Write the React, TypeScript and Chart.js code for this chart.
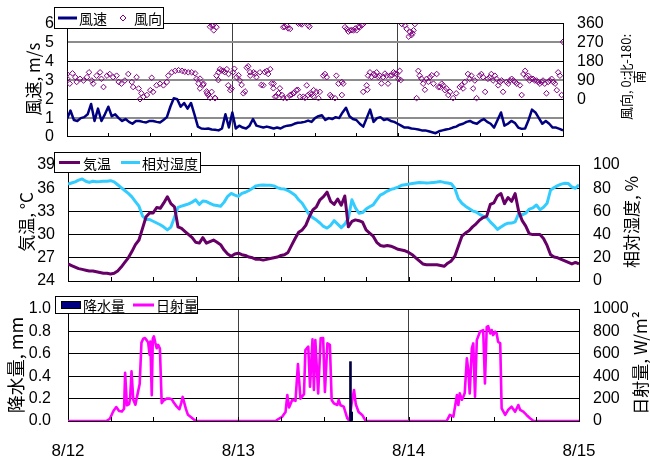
import { useEffect, useRef } from "react";
import { Chart, registerables } from "chart.js";

Chart.register(...registerables);

// ---------- data ----------
const DATE_LABELS = ["8/12", "8/13", "8/14", "8/15"];
const SAMPLE_STEP_HOURS = 0.5; // half-hourly samples from 8/12 00:00

// 風速 m/s (half-hourly)
const windSpeed = [
  0.95, 1.4, 0.9, 0.85, 1.0, 1.05, 1.2, 1.75, 0.85, 1.5,
  0.85, 1.2, 1.6, 1.1, 1.2, 1.0, 0.85, 0.95, 0.8, 0.7,
  0.85, 0.85, 0.8, 0.77, 0.85, 0.85, 0.8, 0.77, 0.9, 1.05,
  1.6, 2.05, 2.0, 1.6, 1.8, 1.5, 1.8, 1.2, 0.55, 0.45,
  0.43, 0.45, 0.4, 0.38, 0.35, 0.45, 1.2, 0.5, 1.3, 0.45,
  0.6, 0.5, 0.45, 0.6, 0.95, 0.6, 0.55, 0.5, 0.55, 0.5,
  0.45, 0.5, 0.45, 0.55, 0.6, 0.62, 0.7, 0.75, 0.77, 0.8,
  0.87, 0.8, 1.0, 1.1, 1.15, 0.9, 1.0, 0.95, 1.05, 1.0,
  1.3, 1.55, 1.1, 0.95, 0.9, 0.7, 0.55, 1.0, 1.45, 0.8,
  1.0, 1.05, 0.9, 0.95, 0.85, 0.8, 0.7, 0.6, 0.5, 0.5,
  0.45, 0.43, 0.4, 0.35, 0.35, 0.3, 0.25, 0.2, 0.3, 0.35,
  0.4, 0.43, 0.5, 0.55, 0.65, 0.7, 0.8, 0.85, 0.75, 0.7,
  0.85, 0.95, 0.8, 0.7, 0.5, 0.9, 1.3, 0.6, 0.7, 0.85,
  0.75, 0.5, 0.43, 0.45, 0.9, 1.45, 1.3, 1.0, 0.7, 0.85,
  0.7, 0.5, 0.5, 0.43, 0.35,
];

// 風向 [hour, degrees]
const windDirection: [number, number][] = [
  [0, 120], [0.05, 97], [0.4, 74], [0.8, 123], [1.2, 105], [1.4, 82], [1.9, 97], [2.4, 89], [2.9, 105], [3.2, 128],
  [3.6, 89], [3.8, 74], [4.3, 112], [4.8, 128], [5.0, 97], [5.3, 58], [5.8, 112], [6.2, 120], [6.7, 105], [7.2, 112],
  [7.5, 82], [7.9, 74], [8.4, 89], [8.9, 120], [9.4, 82], [9.6, 58], [10.1, 105], [10.4, 51], [10.6, 0], [10.8, 28],
  [11.1, 12], [11.6, 20], [12.1, 43], [12.3, 102], [12.5, 35], [13.0, 66], [13.5, 74], [14.0, 66], [14.5, 82], [14.7, 112],
  [15.2, 128], [15.7, 135], [16.2, 138], [16.7, 135], [17.1, 131], [17.6, 128], [18.1, 128], [18.6, 123], [18.8, 97], [19.1, 74],
  [19.3, 51], [19.8, 74], [20.3, 28], [20.5, 20], [21.0, 35], [21.5, 5], [21.7, 112], [22.0, 128], [22.2, 143], [22.7, 135],
  [23.2, 143], [21.2, 351], [21.3, 328], [21.7, 343], [23.4, 66], [23.7, 43], [23.9, 51], [24.1, 128], [24.6, 105], [25.1, 89],
  [25.6, 28], [26.1, 150], [26.3, 157], [26.6, 112], [27.1, 128], [27.5, 105], [28.0, 128], [28.5, 66], [29.0, 135], [29.5, 143],
  [30.0, 74], [30.2, 12], [30.7, 28], [31.2, 20], [31.9, 5], [32.4, 20], [32.9, 28], [33.3, 43], [33.8, 12], [34.3, 12],
  [34.8, 66], [35.0, 20], [35.3, 28], [35.8, 43], [31.4, 343], [31.9, 351], [32.4, 335], [33.6, 360], [34.1, 356], [35.0, 351],
  [19.31, 98], [19.79, 68], [20.27, 37], [20.76, 6], [21.48, 6], [21.97, 91], [22.45, 137], [22.9, 129], [23.45, 120], [24.3, 145],
  [24.9, 114], [25.35, 68], [25.85, 37], [26.57, 129], [27.3, 122], [28.2, 68], [28.7, 129], [29.2, 120], [29.7, 75], [29.96, 52],
  [30.4, 14], [30.9, 52], [31.4, 6], [32.6, 22], [32.85, 29], [33.5, 45], [34.55, 6], [35.5, 22], [35.76, 14], [20.76, 345],
  [21.0, 352], [31.6, 345], [32.1, 337], [33.9, 360], [35.2, 345],
  [36.2, 35], [36.5, 5], [36.7, 35], [37.2, 112], [37.45, 120], [37.7, 105], [38.2, 20], [38.4, 12], [38.9, 5], [39.1, 112],
  [39.4, 74], [39.9, 82], [39.9, 20], [40.1, 74], [40.35, 343], [40.6, 335], [41.1, 328], [41.6, 328], [42.05, 328], [42.5, 343],
  [43.0, 358], [40.85, 322], [41.35, 329], [41.85, 337], [42.3, 345], [42.8, 352],
  [43.0, 35], [43.5, 66], [43.7, 112], [43.98, 128], [44.5, 120], [44.95, 128], [45.4, 112], [45.9, 105], [46.4, 112], [46.6, 74],
  [46.9, 112], [47.4, 128], [47.85, 120], [48.1, 97], [48.3, 135], [48.6, 358], [49.06, 351], [49.3, 335], [49.8, 320], [50.0, 305],
  [50.3, 328], [50.5, 358], [49.6, 298], [50.15, 314], [43.6, 45], [44.2, 106], [44.7, 114], [45.2, 106], [45.65, 75], [46.15, 122],
  [47.15, 114], [47.6, 122], [48.45, 91],
  [50.75, 5], [51.0, 135], [51.2, 112], [51.7, 74], [52.2, 97], [52.7, 105], [53.2, 74], [53.66, 120], [53.9, 58], [54.4, 74],
  [54.6, 66], [55.1, 51], [55.6, 35], [56.05, 5], [56.5, 28], [57.0, 58], [57.5, 51], [57.75, 82], [58.2, 120], [58.7, 112],
  [58.96, 51], [59.45, 5], [59.9, 112], [60.4, 105], [60.7, 35], [61.1, 97], [61.6, 120], [62.1, 112], [62.6, 66], [63.1, 89],
  [63.3, 35], [63.8, 82], [64.3, 89], [64.8, 89], [65.3, 74], [65.75, 66], [66.0, 20], [66.5, 135], [66.95, 112], [67.4, 97],
  [67.9, 89], [68.4, 82], [68.9, 82], [69.35, 74], [69.6, 28], [70.1, 89], [70.6, 82], [71.1, 43], [71.3, 128], [71.55, 112],
  [71.8, 20], [72.0, 273], [51.45, 98], [51.95, 45], [52.45, 83], [52.95, 114], [54.15, 58], [54.85, 43], [55.35, 20], [57.25, 66],
  [58.45, 97], [59.2, 89], [60.15, 120], [61.35, 105], [61.85, 89], [62.35, 97], [62.85, 82], [64.05, 74], [64.55, 97], [65.05, 82],
  [66.25, 120], [66.7, 105], [67.15, 89], [67.65, 97], [68.15, 89], [68.65, 74], [69.1, 89], [69.85, 82], [70.35, 97], [70.85, 74],
];

// 気温 °C (half-hourly)
const airTemp = [
  26.2, 26.0, 25.8, 25.6, 25.5, 25.4, 25.3, 25.3, 25.2, 25.1,
  25.0, 25.0, 24.9, 25.0, 25.3, 25.8, 26.4, 27.0, 27.8, 28.7,
  29.3, 30.8, 32.3, 32.8, 32.8, 33.5, 33.4, 34.1, 34.9, 34.0,
  33.6, 31.0, 30.8, 30.4, 30.0, 29.6, 29.0, 28.9, 29.6, 28.9,
  29.1, 29.3, 29.0, 28.7, 28.0, 27.5, 27.2, 27.5, 27.6, 27.4,
  27.3, 27.1, 27.0, 26.8, 26.8, 26.7, 26.8, 26.9, 27.0, 27.1,
  27.3, 27.4, 27.7, 28.6, 29.5, 30.3, 30.6, 31.2, 32.3, 33.2,
  33.6, 34.5, 34.9, 35.5, 34.3, 33.9, 34.6, 33.8, 35.0, 31.0,
  31.7, 31.9, 31.8, 31.6, 30.6, 30.2, 29.8, 29.0, 28.6, 28.5,
  28.6, 28.5, 28.3, 28.1, 28.0, 27.9, 27.7, 27.4, 27.0, 26.6,
  26.2, 26.1, 26.1, 26.1, 26.1, 26.0, 25.9, 26.3, 26.6, 27.2,
  28.5, 29.8, 30.2, 30.5, 31.0, 31.4, 31.9, 32.2, 32.4, 33.9,
  34.1, 35.0, 35.3, 34.0, 34.8, 34.3, 35.3, 33.0, 31.8, 31.1,
  30.1, 30.0, 30.0, 30.0, 29.5, 28.6, 27.4, 27.1, 27.0, 26.8,
  26.6, 26.4, 26.2, 26.4, 26.2,
];

// 相対湿度 % (half-hourly)
const humidity = [
  83.5, 84.5, 85.5, 87, 88, 86, 85, 86, 85.5, 85.7,
  86, 86, 86.5, 85.5, 83, 80.5, 78, 75.5, 72.5, 68.5,
  64.5, 56, 53, 53, 51.5, 50, 48.5, 46.5, 44, 46.5,
  55, 63.5, 64.5, 65.5, 66.5, 68, 70, 66, 69, 68.5,
  67, 65.5, 65, 64.5, 68, 73, 75.5, 74, 73, 75.5,
  76.5, 78, 80, 82, 82.5, 82.8, 82.5, 82.5, 82, 80.5,
  79.5, 79.3, 78, 76, 74, 70, 67, 62, 57, 54.5,
  52.5, 50, 47, 45.6, 48, 52, 49, 46, 49, 54,
  70, 63, 58.4, 59, 62, 64, 65.6, 70, 74, 75.6,
  77.5, 79, 79.8, 81, 82.5, 83, 83.5, 84, 84.5, 85,
  84.8, 84.5, 84.7, 85, 85.3, 85.7, 85, 84.5, 83.8, 80,
  71, 67, 64.5, 62.5, 60.5, 59.5, 57.5, 56, 54.7, 51,
  48, 44.5, 46.5, 48.5, 49.8, 49.9, 51, 58, 57, 58.5,
  62, 63, 65.5, 61.5, 63.5, 67, 78.5, 80.5, 82.2, 83.5,
  84.2, 84, 81, 80, 83,
];

// 日射量 W/m² [hour, value]
const solar: [number, number][] = [
  [0, 0], [5.4, 0], [5.9, 20], [6.4, 90], [6.8, 125], [7.2, 90], [7.6, 85], [7.9, 110], [8.05, 430], [8.3, 140],
  [8.6, 150], [8.75, 200], [8.95, 443], [9.2, 190], [9.5, 145], [9.8, 240], [10.1, 330], [10.35, 700], [10.6, 735], [10.85, 741],
  [11.1, 720], [11.3, 700], [11.5, 590], [11.6, 710], [11.8, 230], [11.95, 735], [12.1, 756], [12.3, 700], [12.5, 650], [12.7, 680],
  [12.95, 646], [13.2, 160], [13.5, 185], [13.9, 200], [14.3, 200], [14.6, 195], [14.9, 165], [15.3, 130], [15.7, 105], [15.95, 160],
  [16.15, 215], [16.35, 170], [16.6, 110], [16.9, 55], [17.3, 35], [17.7, 15], [18.1, 0],
  [29.25, 0], [29.7, 20], [30.15, 36], [30.65, 80], [30.9, 232], [31.15, 120], [31.6, 190], [32.05, 180], [32.4, 509], [32.75, 200],
  [33.25, 240], [33.45, 634], [33.85, 664], [34.1, 307], [34.45, 729], [34.65, 277], [34.85, 723], [35.25, 247], [35.6, 738], [35.95, 740],
  [36.2, 260], [36.55, 693], [36.9, 679], [37.15, 188], [37.45, 158], [37.95, 143], [38.15, 188], [38.4, 140], [38.85, 128], [39.35, 24],
  [39.65, 0], [39.95, 150], [40.3, 277], [40.55, 150], [40.95, 80], [41.45, 54], [41.95, 0],
  [53.35, 0], [53.8, 54], [54.3, 39], [54.8, 232], [55.0, 143], [55.2, 247], [55.5, 190], [55.7, 217], [55.9, 250], [56.2, 559],
  [56.4, 455], [56.6, 247], [56.9, 648], [57.1, 693], [57.35, 217], [57.6, 722], [58.05, 797], [58.5, 812], [58.75, 336], [59.0, 841],
  [59.2, 847], [59.5, 782], [59.7, 812], [59.9, 767], [60.2, 797], [60.4, 782], [60.6, 708], [60.9, 693], [61.1, 113], [61.6, 54],
  [62.0, 98], [62.5, 128], [63.0, 83], [63.45, 143], [63.7, 100], [64.15, 83], [64.6, 54], [65.1, 24], [65.6, 0], [72, 0],
];

// 降水量 mm [hour, value]
const rain: [number, number][] = [[39.8, 0.53], [39.97, 0.08]];

// ---------- styling ----------
const JP = "'Noto Sans CJK JP', 'Liberation Sans', sans-serif";
const NUM = "'Liberation Sans', Arial, sans-serif";

const series = (vals: number[]) => vals.map((v, i) => ({ x: i * SAMPLE_STEP_HOURS, y: v }));
const pairs = (p: [number, number][]) => p.map(([x, y]) => ({ x, y }));

const dayGrid = (ctx: any) =>
  ctx.tick && (ctx.tick.value === 24 || ctx.tick.value === 48) ? "#404040" : "rgba(0,0,0,0)";

type LegendItem = { kind: "line" | "diamond" | "box"; color: string; x0: number; x1: number; label: string; tx: number };
type Title = { lines: string[]; x: number; y: number; size: number; gap?: number };
type Decor = { box: [number, number, number, number]; items: LegendItem[]; titles: Title[] };

function decorPlugin(d: Decor) {
  return {
    id: "decor",
    afterDraw(chart: any) {
      const ctx = chart.ctx as CanvasRenderingContext2D;
      const xs = chart.scales.x;
      const { bottom } = chart.chartArea;
      ctx.save();
      // inner 6-hour tick marks
      ctx.strokeStyle = "#000";
      ctx.lineWidth = 1;
      for (let h = 6; h < 72; h += 6) {
        const px = Math.round(xs.getPixelForValue(h)) + 0.5;
        ctx.beginPath();
        ctx.moveTo(px, bottom);
        ctx.lineTo(px, bottom - 4);
        ctx.stroke();
      }
      // legend
      const [bx, by, bw, bh] = d.box;
      ctx.fillStyle = "#fff";
      ctx.fillRect(bx, by, bw, bh);
      ctx.strokeStyle = "#000";
      ctx.lineWidth = 1;
      ctx.strokeRect(bx + 0.5, by + 0.5, bw, bh);
      const cy = by + bh / 2 + 0.5;
      ctx.font = `14px ${JP}`;
      ctx.textBaseline = "middle";
      ctx.textAlign = "left";
      for (const it of d.items) {
        if (it.kind === "line") {
          ctx.strokeStyle = it.color;
          ctx.lineWidth = 3;
          ctx.beginPath();
          ctx.moveTo(it.x0, cy);
          ctx.lineTo(it.x1, cy);
          ctx.stroke();
        } else if (it.kind === "diamond") {
          ctx.strokeStyle = it.color;
          ctx.lineWidth = 1;
          ctx.beginPath();
          ctx.moveTo(it.x0, cy - 3);
          ctx.lineTo(it.x0 + 3, cy);
          ctx.lineTo(it.x0, cy + 3);
          ctx.lineTo(it.x0 - 3, cy);
          ctx.closePath();
          ctx.stroke();
        } else {
          ctx.fillStyle = it.color;
          ctx.fillRect(it.x0, cy - 4, it.x1 - it.x0, 8);
          ctx.strokeStyle = "#000";
          ctx.lineWidth = 1;
          ctx.strokeRect(it.x0 + 0.5, cy - 4 + 0.5, it.x1 - it.x0 - 1, 7);
        }
        ctx.fillStyle = "#000";
        ctx.fillText(it.label, it.tx, cy + 1);
      }
      // rotated axis titles (bottom-to-top)
      for (const t of d.titles) {
        ctx.save();
        ctx.translate(t.x, t.y);
        ctx.rotate(-Math.PI / 2);
        ctx.font = `${t.size}px ${JP}`;
        ctx.textAlign = "center";
        ctx.textBaseline = "middle";
        ctx.fillStyle = "#000";
        t.lines.forEach((ln, i) => ctx.fillText(ln, 0, i * (t.gap || t.size)));
        ctx.restore();
      }
      ctx.restore();
    },
  };
}

const tickFont = { family: NUM, size: 16 };

function yAxis(opts: any) {
  const { position, min, max, step, width, padding, gridColor, gridWidth, callback, showGrid } = opts;
  return {
    type: "linear",
    position,
    min,
    max,
    afterFit: (s: any) => {
      s.width = width;
    },
    ticks: {
      stepSize: step,
      autoSkip: false,
      padding,
      color: "#000",
      font: tickFont,
      callback,
    },
    grid: showGrid
      ? { color: gridColor, lineWidth: gridWidth, drawTicks: false }
      : { drawOnChartArea: false, drawTicks: false },
    border: { color: "#000", width: 1 },
  };
}

function xAxis(showLabels: boolean, height: number) {
  return {
    type: "linear",
    min: 0,
    max: 72,
    offset: false,
    afterFit: (s: any) => {
      s.height = height;
    },
    ticks: {
      stepSize: 6,
      autoSkip: false,
      maxRotation: 0,
      display: showLabels,
      padding: 20,
      color: "#000",
      font: { family: NUM, size: 17 },
      callback: (v: any) => (Number(v) % 24 === 0 ? DATE_LABELS[Number(v) / 24] : ""),
    },
    grid: { color: dayGrid, lineWidth: 1, drawTicks: false, offset: false },
    border: { color: "#000", width: 1 },
  };
}

const base = {
  responsive: false,
  animation: false,
  events: [],
  plugins: { legend: { display: false }, tooltip: { enabled: false } },
};

function config1(): any {
  return {
    type: "line",
    data: {
      datasets: [
        {
          label: "風速",
          data: series(windSpeed),
          yAxisID: "y",
          borderColor: "#000080",
          borderWidth: 2.5,
          pointRadius: 0,
          tension: 0,
          borderJoinStyle: "round",
        },
        {
          label: "風向",
          data: pairs(windDirection),
          yAxisID: "y2",
          showLine: false,
          pointStyle: "rectRot",
          pointRadius: 2.8,
          pointBorderWidth: 1,
          pointBorderColor: "#800080",
          pointBackgroundColor: "rgba(255,255,255,0)",
          borderColor: "#800080",
        },
      ],
    },
    options: {
      ...base,
      layout: { padding: { top: 20, bottom: 322, left: 0, right: 0 } },
      scales: {
        x: xAxis(false, 0),
        y: yAxis({
          position: "left", min: 0, max: 6, step: 1, width: 67, padding: 13, showGrid: true,
          gridColor: (c: any) => (c.tick && Math.round(c.tick.value) % 2 === 1 ? "#8c8c8c" : "#000"),
          gridWidth: (c: any) => (c.tick && Math.round(c.tick.value) % 2 === 1 ? 2 : 1),
        }),
        y2: yAxis({
          position: "right", min: -180, max: 360, step: 90, width: 87, padding: 14, showGrid: false,
          callback: (v: any) => (Number(v) < 0 ? "" : String(v)),
        }),
      },
    },
    plugins: [
      decorPlugin({
        box: [54, 7, 109, 21],
        items: [
          { kind: "line", color: "#000080", x0: 58, x1: 77, label: "風速", tx: 79 },
          { kind: "diamond", color: "#800080", x0: 123, x1: 123, label: "風向", tx: 134 },
        ],
        titles: [
          { lines: ["風速, m/s"], x: 34, y: 79, size: 17 },
          { lines: ["風向, 0:北-180:", "南"], x: 626, y: 77, size: 13, gap: 13 },
        ],
      }),
    ],
  };
}

function config2(): any {
  return {
    type: "line",
    data: {
      datasets: [
        {
          label: "気温",
          data: series(airTemp),
          yAxisID: "y",
          borderColor: "#660066",
          borderWidth: 3,
          pointRadius: 0,
          tension: 0,
          borderJoinStyle: "round",
        },
        {
          label: "相対湿度",
          data: series(humidity),
          yAxisID: "y2",
          borderColor: "#33CCFF",
          borderWidth: 3,
          pointRadius: 0,
          tension: 0,
          borderJoinStyle: "round",
        },
      ],
    },
    options: {
      ...base,
      layout: { padding: { top: 165, bottom: 178, left: 0, right: 0 } },
      scales: {
        x: xAxis(false, 0),
        y: yAxis({ position: "left", min: 24, max: 39, step: 3, width: 68, padding: 13, showGrid: true, gridColor: "#000", gridWidth: 1 }),
        y2: yAxis({ position: "right", min: 0, max: 100, step: 20, width: 71, padding: 14, showGrid: false }),
      },
    },
    plugins: [
      decorPlugin({
        box: [54, 152, 146, 20],
        items: [
          { kind: "line", color: "#660066", x0: 59, x1: 80, label: "気温", tx: 83 },
          { kind: "line", color: "#33CCFF", x0: 121, x1: 140, label: "相対湿度", tx: 142 },
        ],
        titles: [
          { lines: ["気温, °C"], x: 27, y: 222, size: 17 },
          { lines: ["相対湿度, %"], x: 632, y: 222, size: 17 },
        ],
      }),
    ],
  };
}

function config3(): any {
  return {
    type: "line",
    data: {
      datasets: [
        {
          type: "bar",
          label: "降水量",
          data: pairs(rain),
          yAxisID: "y",
          backgroundColor: "#000040",
          borderWidth: 0,
          barThickness: 2,
          grouped: false,
        },
        {
          label: "日射量",
          data: pairs(solar),
          yAxisID: "y2",
          borderColor: "#FF00FF",
          borderWidth: 2.6,
          pointRadius: 0,
          tension: 0,
          borderJoinStyle: "round",
        },
      ],
    },
    options: {
      ...base,
      layout: { padding: { top: 309, bottom: 0, left: 0, right: 0 } },
      scales: {
        x: xAxis(true, 38),
        y: yAxis({
          position: "left", min: 0, max: 1, step: 0.2, width: 68, padding: 17, showGrid: true, gridColor: "#000", gridWidth: 1,
          callback: (v: any) => Number(v).toFixed(1),
        }),
        y2: yAxis({ position: "right", min: 0, max: 1000, step: 200, width: 71, padding: 14, showGrid: false }),
      },
    },
    plugins: [
      decorPlugin({
        box: [55, 296, 142, 17],
        items: [
          { kind: "box", color: "#000080", x0: 61, x1: 81, label: "降水量", tx: 83 },
          { kind: "line", color: "#FF00FF", x0: 133, x1: 154, label: "日射量", tx: 156 },
        ],
        titles: [
          { lines: ["降水量, mm"], x: 16, y: 365, size: 18 },
          { lines: ["日射量, W/m²"], x: 641, y: 363, size: 17 },
        ],
      }),
    ],
  };
}

export default function App() {
  const r1 = useRef<HTMLCanvasElement>(null);
  const r2 = useRef<HTMLCanvasElement>(null);
  const r3 = useRef<HTMLCanvasElement>(null);

  useEffect(() => {
    const charts = [
      new Chart(r1.current as HTMLCanvasElement, config1()),
      new Chart(r2.current as HTMLCanvasElement, config2()),
      new Chart(r3.current as HTMLCanvasElement, config3()),
    ];
    return () => charts.forEach((c) => c.destroy());
  }, []);

  const cs: any = { position: "absolute", left: 0, top: 0, width: 650, height: 459 };
  return (
    <div style={{ position: "absolute", left: 0, top: 0, width: 650, height: 459, background: "#fff" }}>
      <canvas ref={r1} width={650} height={459} style={cs} />
      <canvas ref={r2} width={650} height={459} style={cs} />
      <canvas ref={r3} width={650} height={459} style={cs} />
    </div>
  );
}
